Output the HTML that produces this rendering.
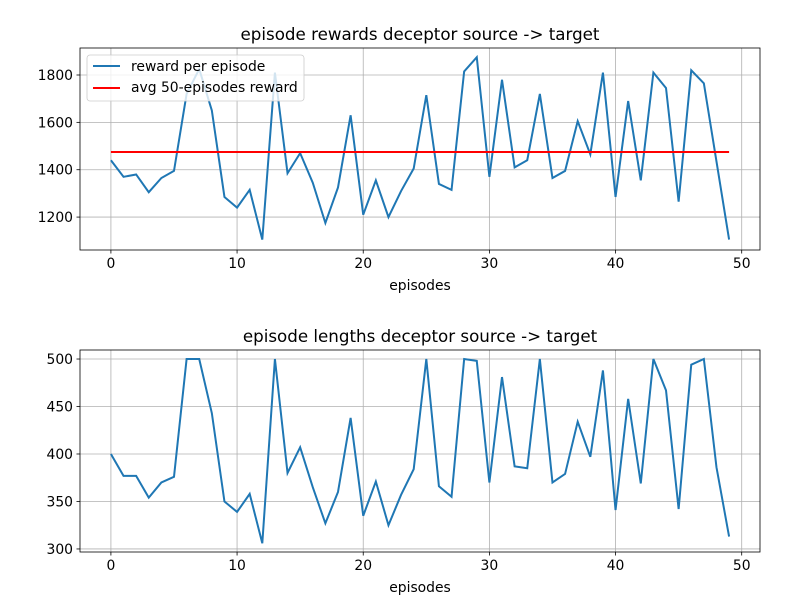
<!DOCTYPE html>
<html><head><meta charset="utf-8"><style>
body{margin:0;background:#fff;font-family:"DejaVu Sans","Liberation Sans",sans-serif}
</style></head><body>
<svg id="c" width="800" height="600" xmlns="http://www.w3.org/2000/svg" font-family="DejaVu Sans, Liberation Sans, sans-serif"></svg>
<script>
const rewards=[1440,1370,1380,1305,1365,1395,1720,1825,1650,1285,1240,1315,1105,1810,1385,1470,1345,1175,1325,1630,1210,1355,1200,1310,1405,1715,1340,1315,1815,1875,1370,1780,1410,1440,1720,1365,1395,1605,1465,1810,1285,1690,1355,1810,1745,1265,1820,1765,1435,1105];
const avgReward=[1475];
const lengths=[400,377,377,354,370,376,500,500,443,350,339,358,306,500,380,407,365,327,360,438,335,371,325,357,384,500,366,355,500,498,370,481,387,385,500,370,379,434,397,488,341,458,369,500,467,342,494,500,386,313];
const xTicks=[0,10,20,30,40,50];
const rTicks=[1200,1400,1600,1800];
const lTicks=[300,350,400,450,500];
const svg=document.getElementById('c');
const NS='http://www.w3.org/2000/svg';
function mk(t,a,p){const e=document.createElementNS(NS,t);for(const k in a)e.setAttribute(k,a[k]);(p||svg).appendChild(e);return e;}
function panel(top,ymin,ymax,yt,title,name){
  const L=80,R=760,T=top,B=top+202;
  const g=mk('g',{});
  
  
  const xs=v=>L+(v+2.45)/53.9*(R-L);
  const ys=v=>B-(v-ymin)/(ymax-ymin)*(B-T);
  xTicks.forEach(t=>{const x=xs(t);
    const gl=mk('line',{x1:x,x2:x,y1:T,y2:B,stroke:'#b0b0b0','stroke-width':0.8},g);
    
    mk('line',{x1:x,x2:x,y1:B,y2:B+3.5,stroke:'#000','stroke-width':0.8},g);
    const tx=mk('text',{x:x,y:B+18,'text-anchor':'middle','font-size':13.9},g);tx.textContent=t;
    });
  yt.forEach(t=>{const y=ys(t);
    const gl=mk('line',{x1:L,x2:R,y1:y,y2:y,stroke:'#b0b0b0','stroke-width':0.8},g);
    
    mk('line',{x1:L-3.5,x2:L,y1:y,y2:y,stroke:'#000','stroke-width':0.8},g);
    const tx=mk('text',{x:L-7,y:y+5,'text-anchor':'end','font-size':13.9},g);tx.textContent=t;
    });
  const f=mk('rect',{x:L,y:T,width:R-L,height:B-T,fill:'none',stroke:'#000','stroke-width':0.8},g);
  
  const ti=mk('text',{x:(L+R)/2,y:T-8,'text-anchor':'middle','font-size':16.7},g);ti.textContent=title;
  
  const xl=mk('text',{x:(L+R)/2,y:B+40,'text-anchor':'middle','font-size':13.9},g);xl.textContent='episodes';
  
  return {g,xs,ys};
}
const p1=panel(48,1061,1914,rTicks,'episode rewards deceptor source -> target','rewards-panel');
const ln1=mk('polyline',{points:rewards.map((v,i)=>p1.xs(i)+','+p1.ys(v)).join(' '),fill:'none',stroke:'#1f77b4','stroke-width':2},p1.g);

const av=mk('line',{x1:p1.xs(0),x2:p1.xs(rewards.length-1),y1:p1.ys(avgReward[0]),y2:p1.ys(avgReward[0]),stroke:'#ff0000','stroke-width':2},p1.g);

const lg=mk('g',{},p1.g);

mk('rect',{x:87,y:55,width:217,height:46,rx:3,fill:'#fff','fill-opacity':0.8,stroke:'#ccc','stroke-width':0.8},lg);
mk('line',{x1:93,x2:120,y1:66,y2:66,stroke:'#1f77b4','stroke-width':2},lg);
const l1=mk('text',{x:131,y:71,'font-size':13.9},lg);l1.textContent='reward per episode';

mk('line',{x1:93,x2:120,y1:88,y2:88,stroke:'#ff0000','stroke-width':2},lg);
const l2=mk('text',{x:131,y:92,'font-size':13.9},lg);l2.textContent='avg 50-episodes reward';

const p2=panel(350,296.8,509.5,lTicks,'episode lengths deceptor source -> target','lengths-panel');
const ln2=mk('polyline',{points:lengths.map((v,i)=>p2.xs(i)+','+p2.ys(v)).join(' '),fill:'none',stroke:'#1f77b4','stroke-width':2},p2.g);

</script>
</body></html>
